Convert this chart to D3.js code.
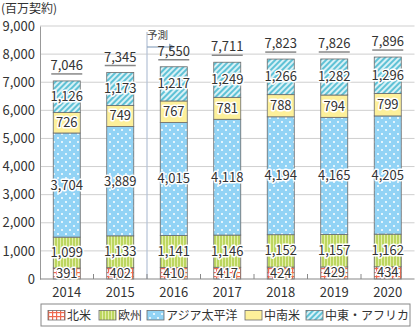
<!DOCTYPE html>
<html><head><meta charset="utf-8">
<script src="https://cdn.jsdelivr.net/npm/d3@7"></script>
<style>
html,body{margin:0;padding:0;background:#fff;}
svg{display:block;font-family:"Noto Sans CJK JP","Noto Sans",sans-serif;}
</style></head>
<body>
<svg id="chart" width="418" height="329"></svg>
<script>
const years = ["2014","2015","2016","2017","2018","2019","2020"];
const seriesNames = ["北米","欧州","アジア太平洋","中南米","中東・アフリカ"];
const northAmerica = [391,402,410,417,424,429,434];
const europe = [1099,1133,1141,1146,1152,1157,1162];
const asiaPacific = [3704,3889,4015,4118,4194,4165,4205];
const latinAmerica = [726,749,767,781,788,794,799];
const meAfrica = [1126,1173,1217,1249,1266,1282,1296];
const totals = [7046,7345,7550,7711,7823,7826,7896];
const yTicks = [0,1000,2000,3000,4000,5000,6000,7000,8000,9000];
const unitLabel = "(百万契約)";
const forecastLabel = "予測";

const svg = d3.select("#chart");
const defs = svg.append("defs");

// patterns
const pNA = defs.append("pattern").attr("id","pNA").attr("patternUnits","userSpaceOnUse").attr("width",4).attr("height",4);
pNA.append("rect").attr("width",4).attr("height",4).attr("fill","#fff");
pNA.append("rect").attr("x",0).attr("y",0).attr("width",4).attr("height",1.2).attr("fill","#ef6a4f");
pNA.append("rect").attr("x",0).attr("y",0).attr("width",1.2).attr("height",4).attr("fill","#ef6a4f");

const pEU = defs.append("pattern").attr("id","pEU").attr("patternUnits","userSpaceOnUse").attr("width",3).attr("height",3);
pEU.append("rect").attr("width",3).attr("height",3).attr("fill","#bcd660");
pEU.append("rect").attr("x",0).attr("width",1).attr("height",3).attr("fill","#e3eeaa");

const pAP = defs.append("pattern").attr("id","pAP").attr("patternUnits","userSpaceOnUse").attr("width",8).attr("height",8);
pAP.append("rect").attr("width",8).attr("height",8).attr("fill","#92d3f5");
pAP.append("circle").attr("cx",2).attr("cy",2).attr("r",1).attr("fill","#fff");
pAP.append("circle").attr("cx",6).attr("cy",6).attr("r",1).attr("fill","#fff");

const pLA = defs.append("pattern").attr("id","pLA").attr("patternUnits","userSpaceOnUse").attr("width",4).attr("height",4);
pLA.append("rect").attr("width",4).attr("height",4).attr("fill","#fdf09a");

const pME = defs.append("pattern").attr("id","pME").attr("patternUnits","userSpaceOnUse").attr("width",4).attr("height",4).attr("patternTransform","rotate(45)");
pME.append("rect").attr("width",4).attr("height",4).attr("fill","#d9f1f6");
pME.append("rect").attr("x",0).attr("width",2).attr("height",4).attr("fill","#5fc2d6");

const fills = ["url(#pNA)","url(#pEU)","url(#pAP)","url(#pLA)","url(#pME)"];
const seriesData = [northAmerica, europe, asiaPacific, latinAmerica, meAfrica];

const x = d3.scaleBand().domain(years).range([40,414.5]).paddingInner(0.495).paddingOuter(0.2475);
const step = x.step();
const y = d3.scaleLinear().domain([0,9000]).range([279,26]);

// gridlines
svg.append("g").selectAll("line").data(yTicks.filter(d=>d>0)).join("line")
  .attr("x1",40).attr("x2",414.5).attr("y1",d=>y(d)).attr("y2",d=>y(d))
  .attr("stroke","#cfcfcf").attr("stroke-width",1);

// y axis
const yAxis = svg.append("g").attr("transform","translate(40,0)")
  .call(d3.axisLeft(y).tickValues(yTicks).tickSize(0).tickPadding(5).tickFormat(d3.format(",")));
yAxis.select(".domain").attr("stroke","#999");
yAxis.selectAll("text").attr("font-size",13).attr("fill","#333").attr("font-family","\"Noto Sans CJK JP\",sans-serif");

// forecast line
const fx = x.range()[0] + step*2;
svg.append("line").attr("x1",fx).attr("x2",fx).attr("y1",32).attr("y2",279).attr("stroke","#b4c2d6").attr("stroke-width",1.2);
svg.append("line").attr("x1",fx).attr("x2",fx+24).attr("y1",47).attr("y2",47).attr("stroke","#8ea4c0").attr("stroke-width",1.2);
svg.append("path").attr("d",`M${fx+22},43.5 L${fx+28},47 L${fx+22},50.5 Z`).attr("fill","#8ea4c0");
svg.append("text").attr("x",fx).attr("y",39).attr("font-size",10.5).attr("fill","#444").text(forecastLabel);

// stacked bars
const table = years.map((yr,i)=>{const o={year:yr}; seriesNames.forEach((s,j)=>o[s]=seriesData[j][i]); return o;});
const stack = d3.stack().keys(seriesNames)(table);
const gBars = svg.append("g");
stack.forEach((layer,j)=>{
  gBars.append("g").selectAll("rect").data(layer).join("rect")
    .attr("x",d=>x(d.data.year)).attr("width",x.bandwidth())
    .attr("y",d=>y(d[1])).attr("height",d=>y(d[0])-y(d[1]))
    .attr("fill",fills[j]).attr("stroke","#6b6b6b").attr("stroke-width",0.8);
});

// x axis baseline and ticks
svg.append("line").attr("x1",40).attr("x2",414.5).attr("y1",279).attr("y2",279).attr("stroke","#888").attr("stroke-width",1.2);
svg.append("g").selectAll("line").data(d3.range(1,7)).join("line")
  .attr("x1",k=>40+k*step).attr("x2",k=>40+k*step).attr("y1",279).attr("y2",274).attr("stroke","#888");
svg.append("g").selectAll("text").data(years).join("text")
  .attr("x",d=>x(d)+x.bandwidth()/2).attr("y",297).attr("text-anchor","middle")
  .attr("font-size",13).attr("fill","#333").text(d=>d);

// segment labels
const fmt = d3.format(",");
stack.forEach((layer,j)=>{
  svg.append("g").selectAll("text").data(layer).join("text")
    .attr("x",d=>x(d.data.year)+x.bandwidth()/2)
    .attr("y",d=>(y(d[0])+y(d[1]))/2+4.5)
    .attr("text-anchor","middle").attr("font-size",13).attr("fill","#333")
    .attr("stroke","#fff").attr("stroke-width",3).attr("paint-order","stroke").attr("stroke-linejoin","round")
    .text(d=>fmt(d[1]-d[0]));
});

// totals
svg.append("g").selectAll("text").data(years).join("text")
  .attr("x",d=>x(d)+x.bandwidth()/2).attr("y",(d,i)=>y(totals[i])-11)
  .attr("text-anchor","middle").attr("font-size",13).attr("fill","#333").text((d,i)=>fmt(totals[i]));
svg.append("g").selectAll("line").data(years).join("line")
  .attr("x1",d=>x(d)-2).attr("x2",d=>x(d)+x.bandwidth()+2)
  .attr("y1",(d,i)=>y(totals[i])-7).attr("y2",(d,i)=>y(totals[i])-7)
  .attr("stroke","#888").attr("stroke-width",1.5);

// unit label
svg.append("text").attr("x",1).attr("y",13).attr("font-size",12).attr("fill","#333").text(unitLabel);

// legend
const lg = svg.append("g");
lg.append("rect").attr("x",41).attr("y",304).attr("width",369).attr("height",22).attr("fill","#fff").attr("stroke","#888").attr("stroke-width",1);
const legendX = [48,99,147,245,306];
seriesNames.forEach((s,j)=>{
  lg.append("rect").attr("x",legendX[j]).attr("y",310.5).attr("width",17).attr("height",9.5).attr("fill",fills[j]).attr("stroke","#6b6b6b").attr("stroke-width",0.8);
  lg.append("text").attr("x",legendX[j]+19).attr("y",319.5).attr("font-size",12).attr("fill","#333").text(s);
});
</script>
</body></html>
